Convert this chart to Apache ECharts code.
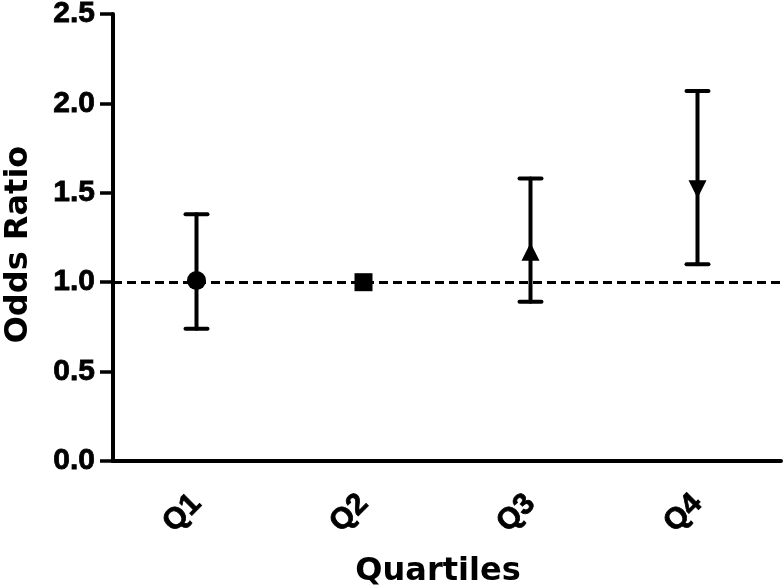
<!DOCTYPE html>
<html>
<head>
<meta charset="utf-8">
<script src="https://cdn.jsdelivr.net/npm/echarts@6/dist/echarts.min.js"></script>
<style>
  html, body { margin: 0; padding: 0; background: #fff; }
  #chart { width: 784px; height: 585px; }
</style>
</head>
<body>
<div id="chart"></div>
<script>
// data
var quartiles = ['Q1', 'Q2', 'Q3', 'Q4'];
var oddsRatio = [1.01, 1.0, 1.17, 1.52];
var ciLow = [0.74, 1.0, 0.89, 1.10];
var ciHigh = [1.38, 1.0, 1.58, 2.07];
var markers = ['circle', 'rect', 'triangle', 'triangle'];
var markerRotate = [0, 0, 0, 180];
var yTicks = [0, 0.5, 1.0, 1.5, 2.0, 2.5];

var myChart = echarts.init(document.getElementById('chart'));

var font = 'Liberation Sans, Arial, sans-serif';
var titleFont = 'DejaVu Sans, Liberation Sans, sans-serif';

var points = [];
var bars = [];
for (var i = 0; i < quartiles.length; i++) {
    points.push({
        value: [i, oddsRatio[i]],
        symbol: markers[i],
        symbolRotate: markerRotate[i],
        symbolSize: markers[i] == 'circle' ? 19 : 18
    });
    if (ciLow[i] != ciHigh[i]) {
        bars.push([i, ciLow[i], ciHigh[i]]);
    }
}

// error bar: vertical line + caps
function renderBar(params, api) {
    var lo = api.coord([api.value(0), api.value(1)]);
    var hi = api.coord([api.value(0), api.value(2)]);
    var half = 11;
    var style = { stroke: '#000', lineWidth: 4, lineCap: 'round' };
    return {
        type: 'group',
        children: [
            { type: 'line', shape: { x1: lo[0], y1: lo[1], x2: hi[0], y2: hi[1] }, style: style },
            { type: 'line', shape: { x1: hi[0] - half, y1: hi[1], x2: hi[0] + half, y2: hi[1] }, style: style },
            { type: 'line', shape: { x1: lo[0] - half, y1: lo[1], x2: lo[0] + half, y2: lo[1] }, style: style }
        ]
    };
}

var option = {
    animation: false,
    grid: {
        left: 113,
        right: 3,
        top: 14,
        bottom: 124,
        containLabel: false,
        outerBoundsMode: 'none'
    },
    xAxis: {
        type: 'category',
        data: quartiles,
        boundaryGap: true,
        name: 'Quartiles',
        nameLocation: 'middle',
        nameGap: 95,
        nameTextStyle: {
            fontFamily: titleFont, fontWeight: 'bold', fontSize: 32, color: '#000',
            padding: [0, 18, 0, 0]
        },
        axisLine: { lineStyle: { color: '#000', width: 4 } },
        axisTick: { alignWithLabel: true, length: 14, lineStyle: { color: '#000', width: 3.5 } },
        axisLabel: {
            rotate: 45, margin: 38, fontFamily: font, fontWeight: 'bold', fontSize: 30, color: '#000',
            textBorderColor: '#000', textBorderWidth: 0.8
        },
        splitLine: { show: false }
    },
    yAxis: {
        type: 'value',
        min: yTicks[0],
        max: yTicks[yTicks.length - 1],
        interval: 0.5,
        name: 'Odds Ratio',
        nameLocation: 'middle',
        nameGap: 78,
        nameTextStyle: {
            fontFamily: titleFont, fontWeight: 'bold', fontSize: 32, color: '#000',
            padding: [0, 14, 0, 0]
        },
        axisLine: { show: true, lineStyle: { color: '#000', width: 4 } },
        axisTick: { show: true, length: 13, lineStyle: { color: '#000', width: 3.5 } },
        axisLabel: {
            margin: 18,
            fontFamily: font, fontWeight: 'bold', fontSize: 30, color: '#000',
            textBorderColor: '#000', textBorderWidth: 0.8,
            formatter: function(v) { return v.toFixed(1); }
        },
        splitLine: { show: false }
    },
    series: [{
        type: 'custom',
        renderItem: renderBar,
        data: bars,
        z: 3
    }, {
        type: 'scatter',
        data: points,
        itemStyle: { color: '#000', opacity: 1 },
        z: 4,
        markLine: {
            silent: true,
            symbol: ['none', 'none'],
            label: { show: false },
            lineStyle: { color: '#000', width: 3, type: [9, 5] },
            data: [{ yAxis: 1.0 }]
        }
    }]
};

myChart.setOption(option);
</script>
</body>
</html>
